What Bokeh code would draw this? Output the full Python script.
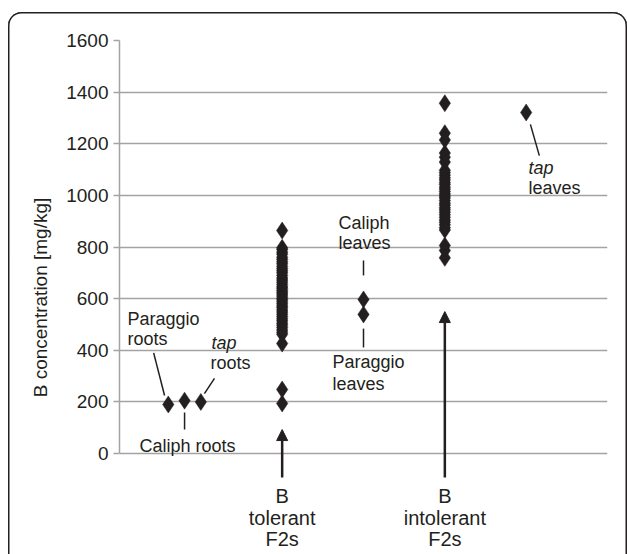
import numpy as np
from bokeh.plotting import figure
from bokeh.models import Range1d, FixedTicker, Arrow, NormalHead
from bokeh.core.properties import value
from bokeh.embed import file_html
from bokeh.resources import INLINE

# ---------------- data ----------------
y_ticks = [0, 200, 400, 600, 800, 1000, 1200, 1400, 1600]

roots_x = [3, 4, 5]                 # Paraggio, Caliph, tap roots
roots_y = [190, 205, 200]

tolerant_x = 10
tolerant_y = [864, 797, 790, 780, 772, 760, 752, 743, 735, 725, 716, 708, 700,
              690, 680, 672, 664, 655, 646, 640, 632, 625, 618, 610, 602, 596,
              588, 580, 572, 565, 556, 548, 540, 531, 522, 514, 505, 497, 488,
              479, 470, 462, 426, 248, 194]

leaves_x = 15
leaves_y = [597, 539]               # Caliph leaves, Paraggio leaves

intolerant_x = 20
intolerant_y = [1357, 1241, 1215, 1164, 1148, 1129, 1097, 1088, 1078, 1068,
                1060, 1050, 1042, 1032, 1024, 1015, 1006, 998, 990, 980, 970,
                962, 952, 944, 935, 925, 915, 905, 896, 886, 875, 866, 806,
                787, 758]

tap_leaves_x = 25
tap_leaves_y = [1321]

# ---------------- styling ----------------
INK = "#231f20"
GRID = "#a3a3a3"
FONT = "Liberation Sans"
FS = "18px"

p = figure(width=619, height=542,
           x_range=Range1d(0, 30), y_range=Range1d(-391, 1600),
           output_backend="svg", toolbar_location=None,
           min_border_left=111, min_border_right=20,
           min_border_top=28, min_border_bottom=0)
p.styles = {
    "margin": "12px 0 0 8px",
    "border-radius": "14px 14px 0 0",
    "box-shadow": f"inset 1.5px 0 0 0 {INK}, inset 0 1.5px 0 0 {INK}, inset -1.5px 0 0 0 {INK}",
}
p.border_fill_color = None
p.background_fill_color = None
p.outline_line_color = None

p.xaxis.visible = False
p.xgrid.visible = False

yax = p.yaxis[0]
yax.ticker = FixedTicker(ticks=y_ticks)
yax.bounds = (y_ticks[0], y_ticks[-1])
yax.axis_line_color = GRID
yax.axis_line_width = 1.5
yax.major_tick_line_color = GRID
yax.major_tick_line_width = 1.5
yax.major_tick_in = 0
yax.major_tick_out = 6
yax.minor_tick_line_color = None
yax.major_label_standoff = 5
yax.major_label_text_font = FONT
yax.major_label_text_font_size = "19px"
yax.major_label_text_color = INK
yax.axis_label = "B concentration [mg/kg]"
yax.axis_label_text_font = FONT
yax.axis_label_text_font_size = "19px"
yax.axis_label_text_font_style = "normal"
yax.axis_label_text_color = INK
yax.axis_label_standoff = 12

p.ygrid.ticker = FixedTicker(ticks=y_ticks)
p.ygrid.grid_line_color = GRID
p.ygrid.grid_line_width = 1.5

# ---------------- points ----------------
def pts(xs, ys):
    p.scatter(xs, ys, marker="diamond", size=17, fill_color=INK, line_color=INK,
              line_width=0.5)

pts(roots_x, roots_y)
pts([tolerant_x] * len(tolerant_y), tolerant_y)
pts([leaves_x] * len(leaves_y), leaves_y)
pts([intolerant_x] * len(intolerant_y), intolerant_y)
pts([tap_leaves_x] * len(tap_leaves_y), tap_leaves_y)

# ---------------- callout lines ----------------
seg_x0 = [roots_x[0] - 0.9, roots_x[1], roots_x[2] + 0.84, leaves_x, leaves_x, tap_leaves_x + 0.26]
seg_y0 = [roots_y[0] + 200, roots_y[1] - 46, roots_y[2] + 91, leaves_y[0] + 151, leaves_y[1] - 55, tap_leaves_y[0] - 46]
seg_x1 = [roots_x[0] - 0.23, roots_x[1], roots_x[2] + 0.22, leaves_x, leaves_x, tap_leaves_x + 0.81]
seg_y1 = [roots_y[0] + 35, roots_y[1] - 112, roots_y[2] + 32, leaves_y[0] + 93, leaves_y[1] - 128, tap_leaves_y[0] - 167]
p.segment(seg_x0, seg_y0, seg_x1, seg_y1, line_color=INK, line_width=1.5)

# ---------------- arrows ----------------
for ax, ay in [(tolerant_x, 93), (intolerant_x, 550)]:
    p.add_layout(Arrow(x_start=ax, y_start=-93, x_end=ax, y_end=ay,
                       line_color=INK, line_width=2.5,
                       end=NormalHead(size=11, fill_color=INK, line_color=INK, line_width=1)))

# ---------------- labels ----------------
def label(xs, ys, texts, align="left", style="normal", size=FS):
    p.text(xs, ys, text=texts, text_font=value(FONT), text_font_size=size,
           text_color=INK, text_align=align, text_baseline="middle",
           text_font_style=style)

label([0.49, 0.49], [523, 442], ["Paraggio", "roots"])
label([5.65], [430], ["tap"], style="italic")
label([5.59], [349], ["roots"])
label([4.18], [31], ["Caliph roots"], align="center")
label([13.46, 13.46], [895, 817], ["Caliph", "leaves"])
label([13.09, 13.09], [353, 271], ["Paraggio", "leaves"])
label([25.14], [1108], ["tap"], style="italic")
label([25.14], [1027], ["leaves"])
label([tolerant_x] * 3, [-163, -248, -330], ["B", "tolerant", "F2s"], align="center", size="20px")
label([intolerant_x] * 3, [-163, -248, -330], ["B", "intolerant", "F2s"], align="center", size="20px")

open("out.html", "w").write(file_html(p, INLINE))
